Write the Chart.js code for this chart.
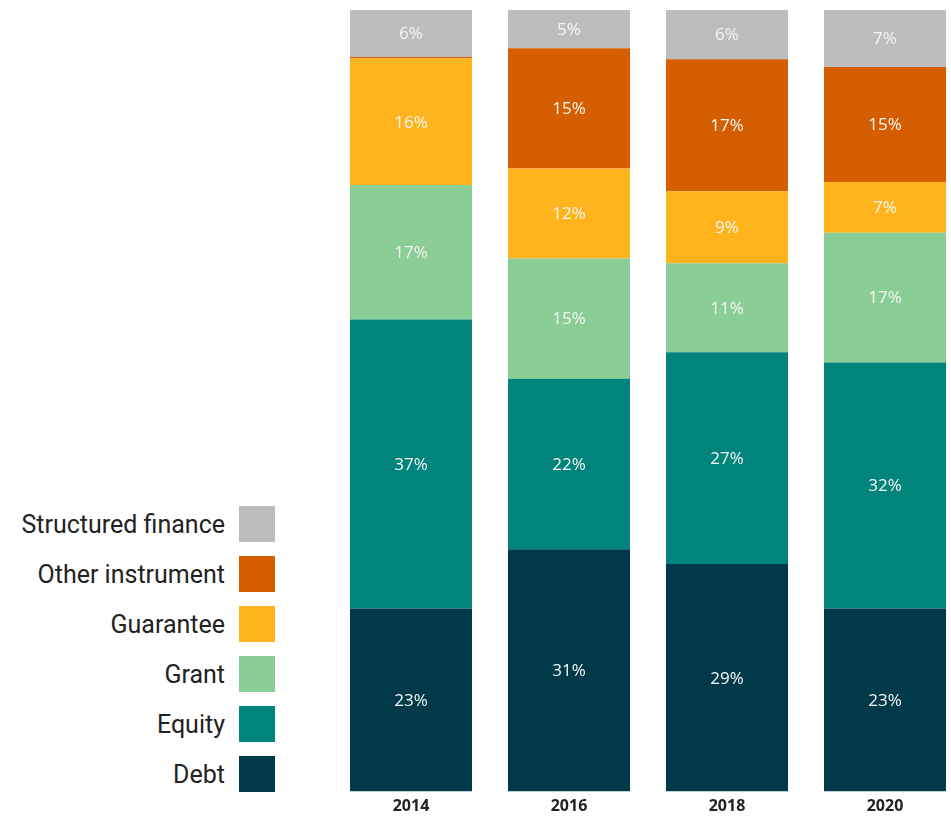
<!DOCTYPE html>
<html lang="en">
<head>
    <meta charset="UTF-8">
    <title>Instrument mix</title>
    <script src="https://cdn.jsdelivr.net/npm/chart.js@4.4.0/dist/chart.umd.min.js"></script>
    <style>
        html, body { margin: 0; padding: 0; background: #fff; overflow: hidden; }
        body { width: 951px; height: 821px; position: relative; }
        #legend { position: absolute; left: 0; top: 506px; width: 275px; font-family: Roboto, sans-serif; }
        .row { display: flex; justify-content: flex-end; align-items: center; height: 36px; margin-bottom: 14px; }
        .row span { font-size: 25px; color: #222; margin-right: 14px; }
        .row i { display: block; width: 36px; height: 36px; }
        #wrap { position: absolute; left: 332px; top: 0; width: 632px; height: 821px; }
    </style>
</head>
<body>
    <div id="legend"></div>
    <div id="wrap"><canvas id="mixChart"></canvas></div>

    <script>
        // categories (years)
        var years = ['2014', '2016', '2018', '2020'];

        // share of each instrument per year, in percent (bottom to top)
        var debt       = [23.4, 31.0, 29.1, 23.4];
        var equity     = [37.0, 21.8, 27.1, 31.5];
        var grant      = [17.2, 15.4, 11.4, 16.6];
        var guarantee  = [16.2, 11.5, 9.2, 6.5];
        var other      = [0.2, 15.4, 16.9, 14.7];
        var structured = [6.0, 4.9, 6.3, 7.3];

        var seriesNames  = ['Debt', 'Equity', 'Grant', 'Guarantee', 'Other instrument', 'Structured finance'];
        var seriesValues = [debt, equity, grant, guarantee, other, structured];
        var seriesColors = ['#003a4a', '#00847c', '#8acd95', '#ffb41d', '#d55e00', '#bdbdbd'];

        // html legend, top entry is the top segment
        var legend = document.getElementById('legend');
        for (var i = seriesNames.length - 1; i >= 0; i--) {
            var row = document.createElement('div');
            row.className = 'row';
            row.innerHTML = '<span>' + seriesNames[i] + '</span><i style="background:' + seriesColors[i] + '"></i>';
            legend.appendChild(row);
        }

        // write the rounded share in the middle of each segment
        var segmentLabels = {
            id: 'segmentLabels',
            afterDatasetsDraw: function(chart) {
                var ctx = chart.ctx;
                ctx.save();
                ctx.font = '17px "Open Sans", sans-serif';
                ctx.fillStyle = '#f6f6f6';
                ctx.textAlign = 'center';
                ctx.textBaseline = 'middle';
                chart.data.datasets.forEach(function(ds, d) {
                    chart.getDatasetMeta(d).data.forEach(function(bar, j) {
                        var v = ds.data[j];
                        if (v < 1) { return; }
                        var mid = (bar.y + bar.base) / 2 + 1;
                        ctx.fillText(Math.round(v) + '%', bar.x, mid);
                    });
                });
                ctx.restore();
            }
        };

        var datasets = seriesNames.map(function(name, k) {
            return {
                label: name,
                data: seriesValues[k],
                backgroundColor: seriesColors[k],
                borderWidth: 0,
                barPercentage: 1,
                categoryPercentage: 122 / 158
            };
        });

        new Chart(document.getElementById('mixChart'), {
            type: 'bar',
            data: { labels: years, datasets: datasets },
            plugins: [segmentLabels],
            options: {
                responsive: true,
                maintainAspectRatio: false,
                animation: false,
                layout: { padding: { top: 10, left: 0, right: 0, bottom: 0 } },
                plugins: {
                    legend: { display: false },
                    tooltip: { enabled: false }
                },
                scales: {
                    x: {
                        stacked: true,
                        grid: { display: false, drawTicks: false, tickLength: 0 },
                        border: { display: false },
                        ticks: {
                            color: '#222',
                            padding: 14,
                            font: { family: '"Open Sans", sans-serif', size: 16, weight: 'bold', lineHeight: 0.1 }
                        }
                    },
                    y: {
                        stacked: true,
                        display: false,
                        min: 0,
                        max: 100
                    }
                }
            }
        });
    </script>
</body>
</html>
